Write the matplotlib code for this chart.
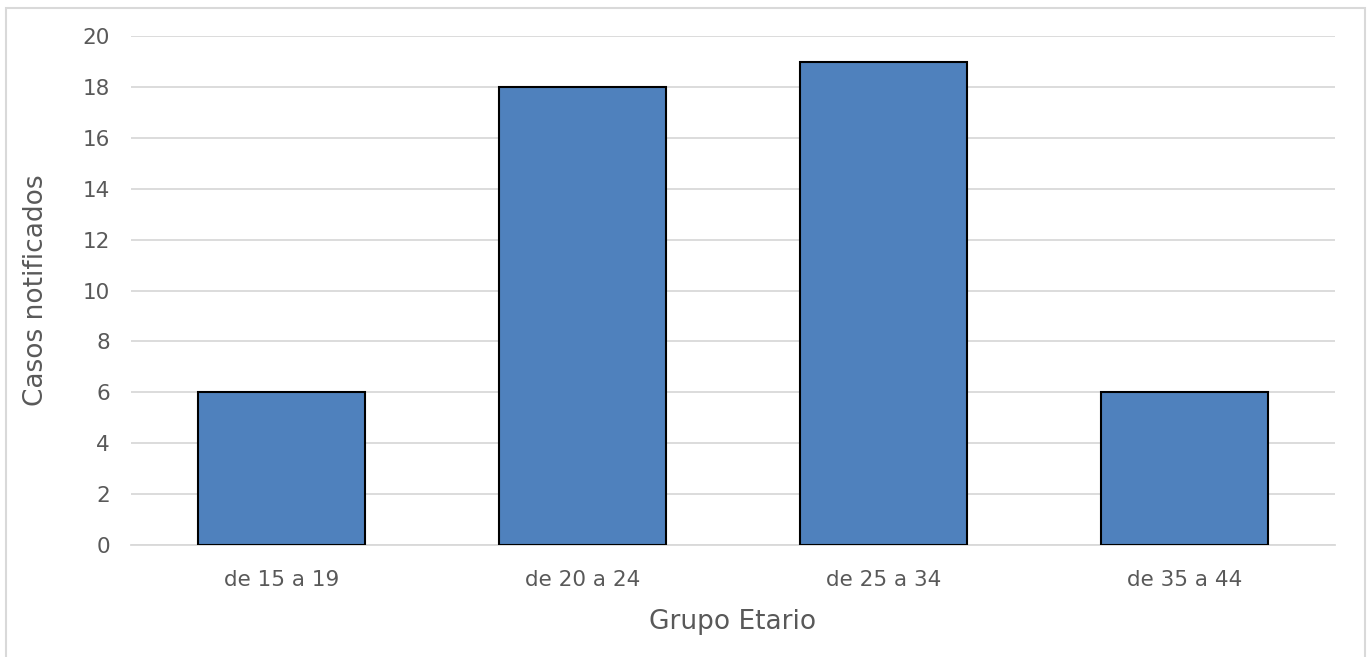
import matplotlib.pyplot as plt
from matplotlib.patches import Rectangle

# Casos notificados por grupo etario
grupos = ["de 15 a 19", "de 20 a 24", "de 25 a 34", "de 35 a 44"]
casos = [6, 18, 19, 6]
y_ticks = [0, 2, 4, 6, 8, 10, 12, 14, 16, 18, 20]

text_color = "#595959"
grid_color = "#d9d9d9"
bar_color = "#4f81bd"

plt.rcParams['font.family'] = ['DejaVu Sans']

fig = plt.figure(figsize=(13.7, 6.57), dpi=100)
ax = fig.add_axes([0.0956, 0.1705, 0.8789, 0.7745])

# Chart frame (open at the bottom)
fig.patches.append(Rectangle((6 / 1370, -0.05), 1359 / 1370, 1.05 - 8 / 657,
                             transform=fig.transFigure, fill=False,
                             edgecolor=grid_color, linewidth=1.5))

ax.bar(range(len(grupos)), casos, width=0.555, color=bar_color,
       edgecolor="black", linewidth=1.5, zorder=3)

ax.set_xlim(-0.5, len(grupos) - 0.5)
ax.set_ylim(0, 20)
ax.set_yticks(y_ticks)
ax.set_xticks(range(len(grupos)))
ax.set_xticklabels(grupos)
ax.grid(axis="y", color=grid_color, linewidth=1.3, zorder=0)
ax.tick_params(axis="both", length=0, labelsize=15.5, labelcolor=text_color)
ax.tick_params(axis="x", pad=18)
ax.tick_params(axis="y", pad=15)

for s in ["top", "right", "left"]:
    ax.spines[s].set_visible(False)
ax.spines["bottom"].set_color(grid_color)
ax.spines["bottom"].set_linewidth(1.3)

ax.set_xlabel("Grupo Etario", fontsize=19, color=text_color, labelpad=14)
ax.set_ylabel("Casos notificados", fontsize=19, color=text_color, labelpad=24)

fig.savefig("out.png", dpi=100)
